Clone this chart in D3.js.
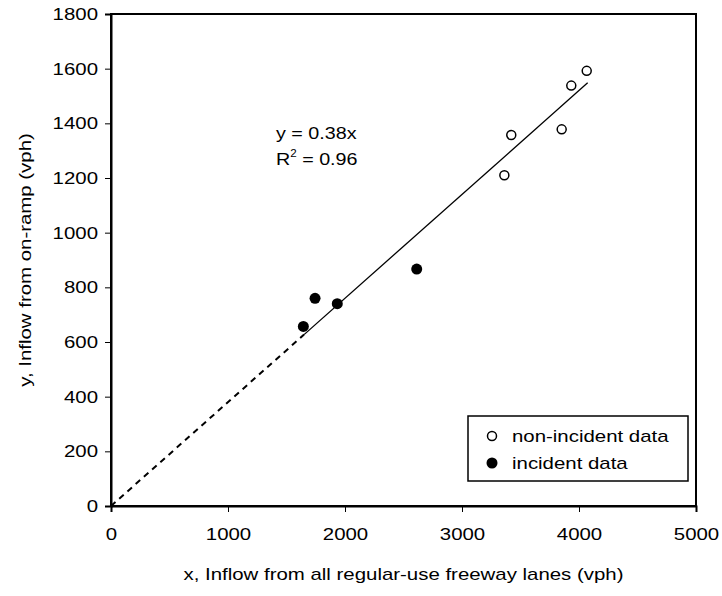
<!DOCTYPE html>
<html>
<head>
<meta charset="utf-8">
<script src="https://cdn.jsdelivr.net/npm/d3@7"></script>
<style>
  body { margin: 0; background: #fff; }
  svg text { font-family: Arial, "Liberation Sans", sans-serif; fill: #000; }
</style>
</head>
<body>
<div id="chart"></div>
<script>
// inflow scatter: on-ramp vs freeway lanes, with fitted line y = 0.38x

// non-incident data (open circles)
const nonIncidentX = [3362, 3421, 3852, 3934, 4066];
const nonIncidentY = [1210, 1357, 1378, 1538, 1592];

// incident data (filled circles)
const incidentX = [1644, 1744, 1934, 2613];
const incidentY = [657, 760, 740, 867];

// fitted line
const slope = 0.38;
const dashedRange = [0, 1650];
const solidRange = [1650, 4074];

const xTicks = [0, 1000, 2000, 3000, 4000, 5000];
const yTicks = [0, 200, 400, 600, 800, 1000, 1200, 1400, 1600, 1800];

const width = 722, height = 596;
const margin = { left: 111, top: 14, right: 26, bottom: 90 };
const FONT = '17px';
const STRETCH = 1.2;   // the original text is a bit wider than Arial

const svg = d3.select('#chart').append('svg')
  .attr('width', width)
  .attr('height', height);

const x = d3.scaleLinear().domain([0, 5000]).range([margin.left, width - margin.right]);
const y = d3.scaleLinear().domain([0, 1800]).range([height - margin.bottom, margin.top]);

// widen glyphs horizontally, keeping the anchor
function stretch(sel) {
  sel.each(function () {
    const w = this.getComputedTextLength();
    d3.select(this)
      .attr('textLength', w * STRETCH)
      .attr('lengthAdjust', 'spacingAndGlyphs');
  });
}

// plot area border
svg.append('rect')
  .attr('x', x(0)).attr('y', y(1800))
  .attr('width', x(5000) - x(0)).attr('height', y(0) - y(1800))
  .attr('fill', 'none')
  .attr('stroke', '#000')
  .attr('stroke-width', 2);

// axes
const xAxis = svg.append('g')
  .attr('transform', `translate(0,${y(0)})`)
  .call(d3.axisBottom(x).tickValues(xTicks).tickSize(6).tickPadding(16).tickFormat(d3.format('d')));
const yAxis = svg.append('g')
  .attr('transform', `translate(${x(0)},0)`)
  .call(d3.axisLeft(y).tickValues(yTicks).tickSize(6).tickPadding(7).tickFormat(d3.format('d')));

[xAxis, yAxis].forEach(ax => {
  ax.select('.domain').attr('stroke', '#000').attr('stroke-width', 2);
  ax.selectAll('.tick line').attr('stroke', '#000').attr('stroke-width', 1);
  ax.selectAll('.tick text').style('font-size', FONT).attr('fill', '#000').call(stretch);
});

// fitted line: dashed part near origin, solid part through data
const line = d3.line().x(d => x(d)).y(d => y(slope * d));
svg.append('path')
  .attr('d', line(dashedRange))
  .attr('fill', 'none')
  .attr('stroke', '#000')
  .attr('stroke-width', 2)
  .attr('stroke-dasharray', '6,5');
svg.append('path')
  .attr('d', line(solidRange))
  .attr('fill', 'none')
  .attr('stroke', '#000')
  .attr('stroke-width', 1.3);

// points
svg.append('g').selectAll('circle')
  .data(d3.zip(nonIncidentX, nonIncidentY))
  .join('circle')
  .attr('cx', d => x(d[0]))
  .attr('cy', d => y(d[1]))
  .attr('r', 4.5)
  .attr('fill', '#fff')
  .attr('stroke', '#000')
  .attr('stroke-width', 1.5);

svg.append('g').selectAll('circle')
  .data(d3.zip(incidentX, incidentY))
  .join('circle')
  .attr('cx', d => x(d[0]))
  .attr('cy', d => y(d[1]))
  .attr('r', 5.5)
  .attr('fill', '#000');

// equation
svg.append('text')
  .attr('transform', `translate(276,139) scale(${STRETCH - 0.04},1)`)
  .style('font-size', FONT)
  .text('y = 0.38x');
const r2 = svg.append('text')
  .attr('transform', `translate(276,165) scale(${STRETCH - 0.04},1)`)
  .style('font-size', FONT);
r2.append('tspan').text('R');
r2.append('tspan').attr('dy', -8).style('font-size', '10px').text('2');
r2.append('tspan').attr('dy', 8).text(' = 0.96');

// legend
const legend = svg.append('g');
legend.append('rect')
  .attr('x', 468).attr('y', 416)
  .attr('width', 220).attr('height', 65)
  .attr('fill', '#fff')
  .attr('stroke', '#000')
  .attr('stroke-width', 1.5);
legend.append('circle')
  .attr('cx', 492).attr('cy', 436).attr('r', 4.5)
  .attr('fill', '#fff').attr('stroke', '#000').attr('stroke-width', 1.5);
legend.append('text')
  .attr('x', 512).attr('y', 442)
  .style('font-size', FONT)
  .text('non-incident data')
  .call(stretch);
legend.append('circle')
  .attr('cx', 492).attr('cy', 463).attr('r', 5.5)
  .attr('fill', '#000');
legend.append('text')
  .attr('x', 512).attr('y', 469)
  .style('font-size', FONT)
  .text('incident data')
  .call(stretch);

// axis titles
svg.append('text')
  .attr('x', (x(0) + x(5000)) / 2).attr('y', 580)
  .attr('text-anchor', 'middle')
  .style('font-size', FONT)
  .text('x, Inflow from all regular-use freeway lanes (vph)')
  .call(stretch);
svg.append('text')
  .attr('transform', `translate(31,${(y(0) + y(1800)) / 2}) rotate(-90)`)
  .attr('text-anchor', 'middle')
  .style('font-size', FONT)
  .text('y, Inflow from on-ramp (vph)')
  .call(stretch);
</script>
</body>
</html>
